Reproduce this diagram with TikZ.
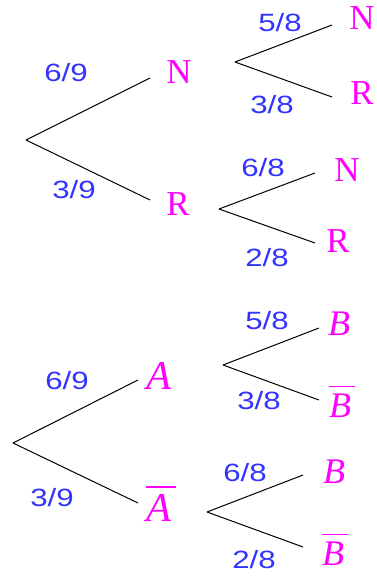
\documentclass[tikz,border=0pt]{standalone}
\usepackage{fontspec}
\setmainfont{Liberation Serif}
\newfontfamily\probfont[FakeStretch=1.25]{Liberation Sans}
\definecolor{probblue}{RGB}{51,51,255}
\definecolor{evmagenta}{RGB}{255,0,255}
% complement bar over an event letter
\newcommand{\evbar}[1]{\leavevmode\vbox{\hrule height 1.6pt\kern 6pt\hbox{#1\kern 4pt}}}

\begin{document}
\begin{tikzpicture}[x=1pt, y=-1pt]
    \tikzset{
      event/.style={text=evmagenta, inner sep=0pt, anchor=base, font=\fontsize{35}{35}\selectfont},
      eventA/.style={event, font=\fontsize{41}{41}\selectfont\itshape},
      eventB/.style={event, font=\fontsize{36}{36}\selectfont\itshape},
      prob/.style={text=probblue, inner sep=0pt, font=\probfont\fontsize{25}{25}\selectfont},
      branch/.style={draw=black, line width=1pt}
    }
    \useasboundingbox (0,0) rectangle (377,578);

    % Upper tree - first draw
    \coordinate (t0) at (26,140);
    \coordinate (tN_in) at (150,78);
    \coordinate (tR_in) at (150,200);
    \node[event] (tN) at (179,84) {N};
    \node[event] (tR) at (178,215) {R};
    \draw[branch] (t0) -- (tN_in);
    \draw[branch] (t0) -- (tR_in);
    \node[prob] (p69) at (66,73) {6/9};
    \node[prob] (p39) at (74,190) {3/9};

    % Upper tree - second draw after N
    \coordinate (tN_out) at (235,62);
    \coordinate (tNN_in) at (332,25);
    \coordinate (tNR_in) at (332,97);
    \node[event] (tNN) at (362,30) {N};
    \node[event] (tNR) at (362,104) {R};
    \draw[branch] (tN_out) -- (tNN_in);
    \draw[branch] (tN_out) -- (tNR_in);
    \node[prob] (p58) at (280,23) {5/8};
    \node[prob] (p38) at (272,105) {3/8};

    % Upper tree - second draw after R
    \coordinate (tR_out) at (219,209);
    \coordinate (tRN_in) at (315,173);
    \coordinate (tRR_in) at (315,243);
    \node[event] (tRN) at (347,181) {N};
    \node[event] (tRR) at (338,252) {R};
    \draw[branch] (tR_out) -- (tRN_in);
    \draw[branch] (tR_out) -- (tRR_in);
    \node[prob] (p68) at (263,168) {6/8};
    \node[prob] (p28) at (267,258) {2/8};

    % Lower tree - events A and B
    \coordinate (b0) at (13,443);
    \coordinate (bA_in) at (138,380);
    \coordinate (bAbar_in) at (138,503);
    \node[eventA] (bA) at (159,389) {A};
    \node[eventA] (bAbar) at (161,521) {\evbar{A}};
    \draw[branch] (b0) -- (bA_in);
    \draw[branch] (b0) -- (bAbar_in);
    \node[prob] (q69) at (67,381) {6/9};
    \node[prob] (q39) at (52,498) {3/9};

    % Lower tree - after A
    \coordinate (bA_out) at (223,365);
    \coordinate (bAB_in) at (319,328);
    \coordinate (bABbar_in) at (319,400);
    \node[eventB] (bAB) at (339,335) {B};
    \node[eventB] (bABbar) at (342,417) {\evbar{B}};
    \draw[branch] (bA_out) -- (bAB_in);
    \draw[branch] (bA_out) -- (bABbar_in);
    \node[prob] (q58) at (267,321) {5/8};
    \node[prob] (q38) at (259,401) {3/8};

    % Lower tree - after A bar
    \coordinate (bAbar_out) at (207,512);
    \coordinate (bAbarB_in) at (303,475);
    \coordinate (bAbarBbar_in) at (303,547);
    \node[eventB] (bAbarB) at (334,483) {B};
    \node[eventB] (bAbarBbar) at (335,565) {\evbar{B}};
    \draw[branch] (bAbar_out) -- (bAbarB_in);
    \draw[branch] (bAbar_out) -- (bAbarBbar_in);
    \node[prob] (q68) at (245,473) {6/8};
    \node[prob] (q28) at (254,560) {2/8};

\end{tikzpicture}
\end{document}
